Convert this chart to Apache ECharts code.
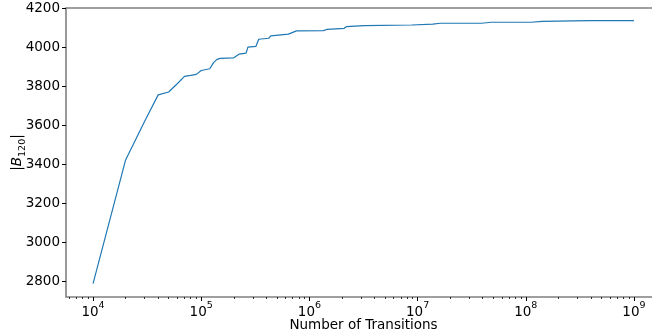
<!DOCTYPE html>
<html>
<head>
<meta charset="utf-8">
<script src="https://cdn.jsdelivr.net/npm/echarts@6/dist/echarts.min.js"></script>
<style>
  html, body { margin: 0; padding: 0; background: #fff; }
  #main { width: 652px; height: 334px; }
</style>
</head>
<body>
<div id="main"></div>
<script>
// 数据
var transitions = [1e4, 2e4, 3e4, 4e4, 5e4, 6e4, 7e4, 8e4, 9e4, 1e5, 1.2e5, 1.3e5, 1.4e5, 1.5e5,
    2e5, 2.25e5, 2.6e5, 2.7e5, 3.2e5, 3.4e5, 4.2e5, 4.4e5, 6.4e5, 7.6e5, 1.35e6, 1.46e6,
    2.1e6, 2.2e6, 3.2e6, 8.8e6, 1.38e7, 1.62e7, 3.9e7, 4.8e7, 1.12e8, 1.42e8, 3.9e8, 1e9];
var bSize = [2788, 3422, 3620, 3755, 3770, 3812, 3850, 3855, 3860, 3880, 3889, 3920, 3937, 3942,
    3945, 3964, 3969, 4000, 4003, 4040, 4045, 4057, 4066, 4083, 4084, 4091,
    4096, 4105, 4110, 4113, 4117, 4122, 4122, 4127, 4127, 4132, 4135, 4135];
var xMajorTicks = [1e4, 1e5, 1e6, 1e7, 1e8, 1e9];
var yTicks = [2800, 3000, 3200, 3400, 3600, 3800, 4000, 4200];

// 次刻度 2..9 x 10^n
var xMinorTicks = [];
for (var e = 3; e <= 9; e++) {
    for (var k = 2; k <= 9; k++) xMinorTicks.push(k * Math.pow(10, e));
}

var font = 'DejaVu Sans';
var xMin = Math.pow(10, 3.75), xMax = Math.pow(10, 9.25);

var myChart = echarts.init(document.getElementById('main'));
var option = {
    animation: false,
    backgroundColor: '#fff',
    grid: {
        left: 66, top: 8, right: -9, bottom: 37,
        outerBoundsMode: 'none', containLabel: false,
        show: true, borderColor: '#808080', borderWidth: 1.6
    },
    xAxis: [{
        type: 'log', logBase: 10, min: xMin, max: xMax, position: 'bottom',
        name: 'Number of Transitions', nameLocation: 'middle', nameGap: 21, nameMoveOverlap: false,
        nameTextStyle: { fontFamily: font, fontSize: 13.5, color: '#000' },
        axisLine: { show: false },
        splitLine: { show: false },
        axisTick: { customValues: xMajorTicks, length: 4, lineStyle: { color: '#000', width: 1 } },
        axisLabel: {
            customValues: xMajorTicks, margin: 4,
            formatter: function (v) { return '{b|10}{s|' + Math.round(Math.log10(v)) + '}'; },
            rich: {
                b: { fontFamily: font, fontSize: 13.5, color: '#000', lineHeight: 18, verticalAlign: 'bottom' },
                s: { fontFamily: font, fontSize: 9.5, color: '#000', lineHeight: 11, verticalAlign: 'top' }
            }
        }
    }, {
        type: 'log', logBase: 10, min: xMin, max: xMax, position: 'bottom',
        axisLine: { show: false },
        splitLine: { show: false },
        axisLabel: { show: false },
        axisTick: { customValues: xMinorTicks, length: 2, lineStyle: { color: '#000', width: 0.8 } }
    }],
    yAxis: {
        type: 'value', min: 2720, max: 4200,
        name: '{p||}{i|B}{s|120}{p||}', nameLocation: 'middle', nameGap: 38, nameMoveOverlap: false,
        nameTextStyle: {
            rich: {
                p: { fontFamily: font, fontSize: 13.5, color: '#000', lineHeight: 18, verticalAlign: 'top' },
                i: { fontFamily: font, fontSize: 13.5, fontStyle: 'italic', color: '#000', lineHeight: 18, verticalAlign: 'top' },
                s: { fontFamily: font, fontSize: 9.5, color: '#000', lineHeight: 11, verticalAlign: 'bottom' }
            }
        },
        axisLine: { show: false },
        splitLine: { show: false },
        axisTick: { customValues: yTicks, length: 4, lineStyle: { color: '#000', width: 1 } },
        axisLabel: {
            customValues: yTicks, margin: 6, fontFamily: font, fontSize: 13.5, color: '#000',
            formatter: function (v) { return String(v); }
        }
    },
    series: [{
        type: 'line',
        xAxisIndex: 0,
        data: transitions.map(function (t, i) { return [t, bSize[i]]; }),
        showSymbol: false,
        lineStyle: { color: '#1f77b4', width: 1.2 },
        itemStyle: { color: '#1f77b4' }
    }]
};
myChart.setOption(option);
</script>
</body>
</html>
